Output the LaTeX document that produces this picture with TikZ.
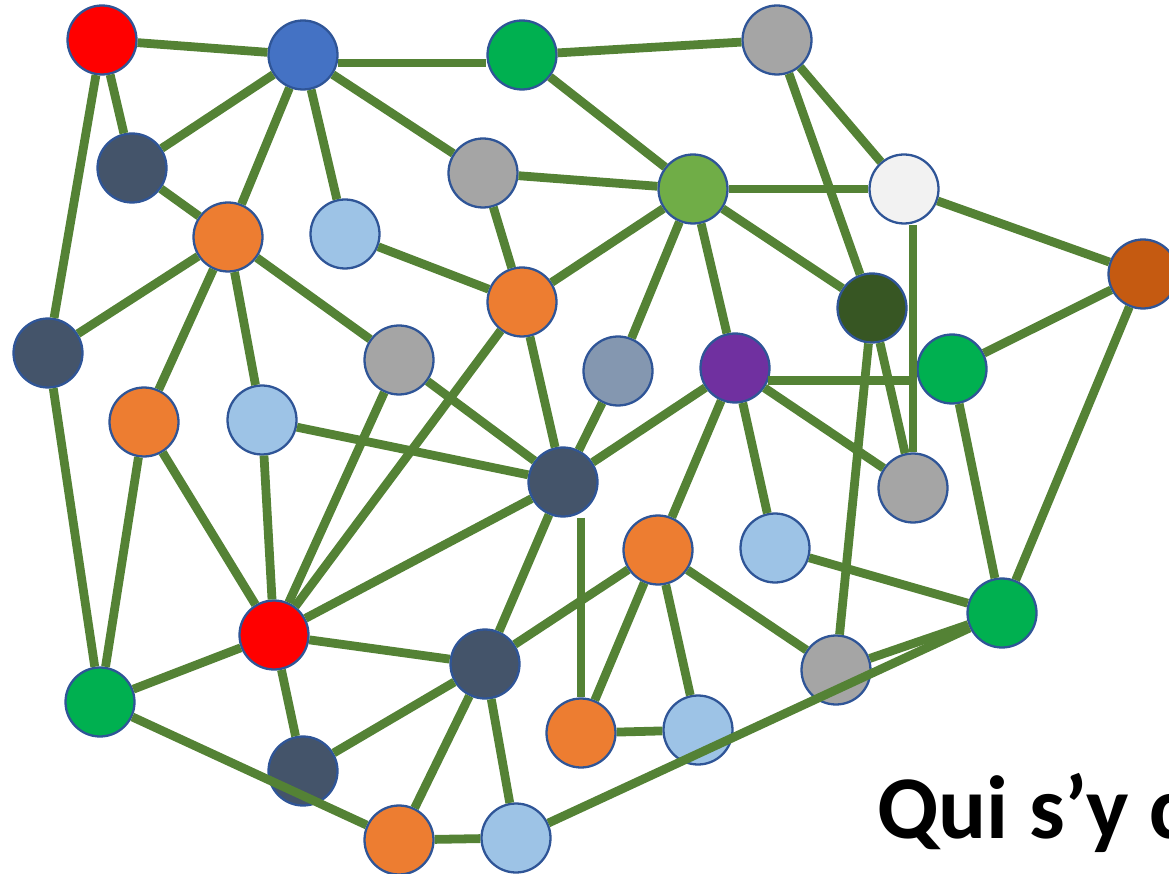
\documentclass[tikz,border=0pt]{standalone}
\usepackage{fontspec}
\newfontfamily\titlefont{Carlito}
\definecolor{edgegreen}{HTML}{548235}
\definecolor{rimblue}{HTML}{2F5597}
\definecolor{cred}{HTML}{FF0000}
\definecolor{cblue}{HTML}{4472C4}
\definecolor{cgreen}{HTML}{00B050}
\definecolor{cgray}{HTML}{A5A5A5}
\definecolor{cnavy}{HTML}{44546A}
\definecolor{clime}{HTML}{70AD47}
\definecolor{cwhite}{HTML}{F2F2F2}
\definecolor{corange}{HTML}{ED7D31}
\definecolor{csky}{HTML}{9DC3E6}
\definecolor{cforest}{HTML}{375623}
\definecolor{crust}{HTML}{C55A11}
\definecolor{csteel}{HTML}{8497B0}
\definecolor{cpurple}{HTML}{7030A0}
\tikzset{
  person/.style={circle, draw=rimblue, line width=1.3pt, minimum size=1.38cm, inner sep=0pt, fill=#1},
  link/.style={draw=edgegreen, line width=5pt}
}

\begin{document}
\begin{tikzpicture}[x=0.02cm, y=-0.02cm]
		%%%%% START %%%%%
		\useasboundingbox (0,0) rectangle (1169,874);
		
		%% people
		\node[person=cred]    (r1)  at (102,40)  {};
		\node[person=cblue]   (b1)  at (303,55)  {};
		\node[person=cgreen]  (g1)  at (522,55)  {};
		\node[person=cgray]   (gy1) at (777,40)  {};
		\node[person=cnavy]   (n1)  at (132,168) {};
		\node[person=cgray]   (gy2) at (483,173) {};
		\node[person=clime]   (lg)  at (693,189) {};
		\node[person=cwhite]  (w)   at (904,189) {};
		\node[person=corange] (o1)  at (228,237) {};
		\node[person=csky]    (s1)  at (345,234) {};
		\node[person=corange] (o2)  at (522,302) {};
		\node[person=cforest] (dg)  at (872,308) {};
		\node[person=crust]   (br)  at (1143,274) {};
		\node[person=cnavy]   (n2)  at (48,353)  {};
		\node[person=cgray]   (gy3) at (399,360) {};
		\node[person=csteel]  (st)  at (618,371) {};
		\node[person=cpurple] (pu)  at (735,368) {};
		\node[person=cgreen]  (g2)  at (952,369) {};
		\node[person=corange] (o3)  at (144,422) {};
		\node[person=csky]    (s2)  at (262,420) {};
		\node[person=cnavy]   (n3)  at (563,482) {};
		\node[person=cgray]   (gy4) at (913,488) {};
		\node[person=corange] (o4)  at (658,550) {};
		\node[person=csky]    (s3)  at (775,548) {};
		\node[person=cgreen]  (g3)  at (1002,613) {};
		\node[person=cred]    (r2)  at (274,635) {};
		\node[person=cnavy]   (n4)  at (485,664) {};
		\node[person=cgray]   (gy5) at (836,670) {};
		\node[person=cgreen]  (g4)  at (100,702) {};
		\node[person=corange] (o5)  at (581,733) {};
		\node[person=csky]    (s4)  at (698,730) {};
		\node[person=cnavy]   (n5)  at (303,771) {};
		\node[person=corange] (o6)  at (399,840) {};
		\node[person=csky]    (s5)  at (516,838) {};
		
		%% links
		\draw[link] (r1) -- (b1);  \draw[link] (r1) -- (n1);  \draw[link] (r1) -- (n2);
		\draw[link] (b1.-13) -- (b1.-13 -| g1.west);  \draw[link] (b1) -- (n1);  \draw[link] (b1) -- (o1);
		\draw[link] (b1) -- (s1);  \draw[link] (b1) -- (gy2);
		\draw[link] (g1) -- (gy1); \draw[link] (g1) -- (lg);
		\draw[link] (gy1) -- (w);  \draw[link] (gy1) -- (dg);
		\draw[link] (gy2) -- (lg); \draw[link] (gy2) -- (o2);
		\draw[link] (lg) -- (w);   \draw[link] (lg) -- (o2);  \draw[link] (lg) -- (st);
		\draw[link] (lg) -- (pu);  \draw[link] (lg) -- (dg);
		\draw[link] (w) -- (br);   \draw[link] (gy4.north |- w.south) -- (gy4.north);
		\draw[link] (n1) -- (o1);  \draw[link] (s1) -- (o2);
		\draw[link] (o1) -- (n2);  \draw[link] (o1) -- (o3);  \draw[link] (o1) -- (s2);
		\draw[link] (o1) -- (gy3);
		\draw[link] (o2) -- (r2);  \draw[link] (o2) -- (n3);
		\draw[link] (dg) -- (gy5); \draw[link] (dg) -- (gy4);
		\draw[link] (br) -- (g2);  \draw[link] (br) -- (g3);
		\draw[link] (n2) -- (g4);
		\draw[link] (gy3) -- (n3); \draw[link] (gy3) -- (r2);
		\draw[link] (st) -- (n3);
		\draw[link] (pu.-20) -- (pu.-20 -| g2.west);  \draw[link] (pu) -- (n3);  \draw[link] (pu) -- (o4);
		\draw[link] (pu) -- (s3);  \draw[link] (pu) -- (gy4);
		\draw[link] (g2) -- (g3);
		\draw[link] (o3) -- (g4);  \draw[link] (o3) -- (r2);
		\draw[link] (s2) -- (n3);  \draw[link] (s2) -- (r2);
		\draw[link] (n3) -- (r2);  \draw[link] (n3) -- (n4);  \draw[link] (o5.north |- n3.south) -- (o5.north);
		\draw[link] (o4) -- (n4);  \draw[link] (o4) -- (o5);  \draw[link] (o4) -- (s4);
		\draw[link] (o4) -- (gy5);
		\draw[link] (s3) -- (g3);  \draw[link] (g3) -- (gy5); \draw[link] (g3) -- (s5);
		\draw[link] (r2) -- (g4);  \draw[link] (r2) -- (n4);  \draw[link] (r2) -- (n5);
		\draw[link] (n4) -- (n5);  \draw[link] (n4) -- (o6);  \draw[link] (n4) -- (s5);
		\draw[link] (o5) -- (s4);
		\draw[link] (g4) -- (o6);  \draw[link] (o6) -- (s5);
		
		%% title, cut by the page edge
		\node[anchor=base west, inner sep=0pt, font=\titlefont\bfseries\fontsize{51}{51}\selectfont] (title) at (877,838) {Qui s’y c};
		%%%%% END %%%%%
	\end{tikzpicture}
\end{document}
